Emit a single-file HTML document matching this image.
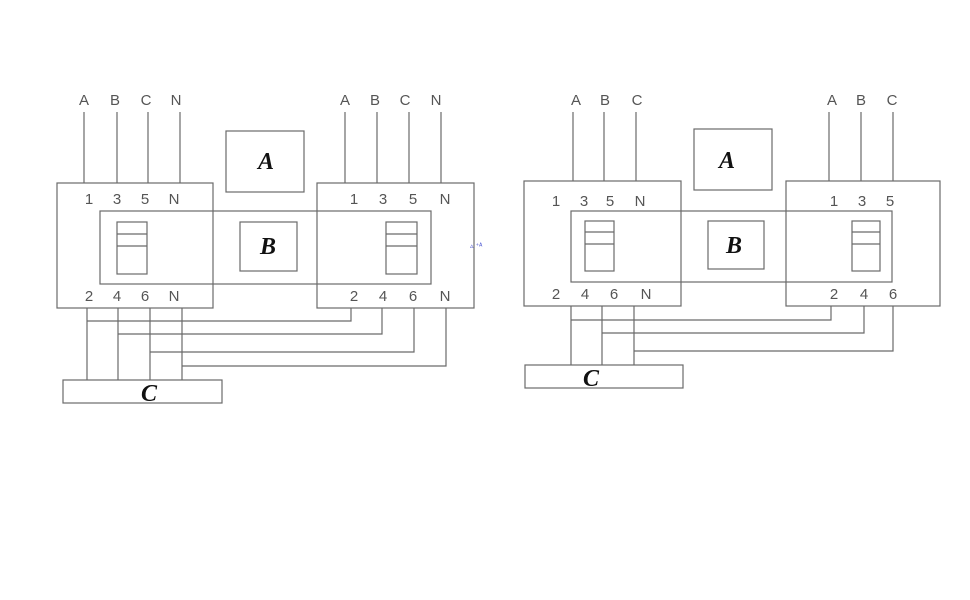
<!DOCTYPE html>
<html><head><meta charset="utf-8"><style>
html,body{margin:0;padding:0;background:#fff}
svg{display:block}
.l{stroke:#6a6a6a;stroke-width:1.2;fill:none}
.t{font-family:"Liberation Sans",sans-serif;font-size:15px;fill:#555;text-anchor:middle}
.b{font-family:"Liberation Serif",serif;font-size:24px;font-weight:bold;font-style:italic;fill:#111;text-anchor:middle}
</style></head><body>
<svg width="970" height="600" viewBox="0 0 970 600" xmlns="http://www.w3.org/2000/svg">
<g class="l">
<rect x="57" y="183" width="156" height="125"/>
<rect x="317" y="183" width="157" height="125"/>
<rect x="100" y="211" width="331" height="73"/>
<rect x="226" y="131" width="78" height="61"/>
<rect x="240" y="222" width="57" height="49"/>
<rect x="117" y="222" width="30" height="52"/><path d="M117 234H147M117 246H147"/>
<rect x="386" y="222" width="31" height="52"/><path d="M386 234H417M386 246H417"/>
<path d="M84 112V183M117 112V183M148 112V183M180 112V183"/>
<path d="M345 112V183M377 112V183M409 112V183M441 112V183"/>
<path d="M87 308V380M118 308V380M150 308V380M182 308V380"/>
<path d="M351 308V321H87M382 308V334H118M414 308V352H150M446 308V366H182"/>
<rect x="63" y="380" width="159" height="23"/>
</g>
<g class="t">
<text x="84" y="105">A</text><text x="115" y="105">B</text><text x="146" y="105">C</text><text x="176" y="105">N</text>
<text x="345" y="105">A</text><text x="375" y="105">B</text><text x="405" y="105">C</text><text x="436" y="105">N</text>
<text x="89" y="204">1</text><text x="117" y="204">3</text><text x="145" y="204">5</text><text x="174" y="204">N</text>
<text x="354" y="204">1</text><text x="383" y="204">3</text><text x="413" y="204">5</text><text x="445" y="204">N</text>
<text x="89" y="301">2</text><text x="117" y="301">4</text><text x="145" y="301">6</text><text x="174" y="301">N</text>
<text x="354" y="301">2</text><text x="383" y="301">4</text><text x="413" y="301">6</text><text x="445" y="301">N</text>
</g>
<text class="b" x="266" y="169">A</text>
<text class="b" x="268" y="254">B</text>
<text class="b" x="149" y="401">C</text>
<text x="470" y="248" style="font-family:'Liberation Sans',sans-serif;font-size:7px;fill:#4450d0">▵ ⁺ᴬ</text>
<g class="l">
<rect x="524" y="181" width="157" height="125"/>
<rect x="786" y="181" width="154" height="125"/>
<rect x="571" y="211" width="321" height="71"/>
<rect x="694" y="129" width="78" height="61"/>
<rect x="708" y="221" width="56" height="48"/>
<rect x="585" y="221" width="29" height="50"/><path d="M585 232H614M585 244H614"/>
<rect x="852" y="221" width="28" height="50"/><path d="M852 232H880M852 244H880"/>
<path d="M573 112V181M604 112V181M636 112V181"/>
<path d="M829 112V181M861 112V181M893 112V181"/>
<path d="M571 306V365M602 306V365M634 306V365"/>
<path d="M831 306V320H571M864 306V333H602M893 306V351H634"/>
<rect x="525" y="365" width="158" height="23"/>
</g>
<g class="t">
<text x="576" y="105">A</text><text x="605" y="105">B</text><text x="637" y="105">C</text>
<text x="832" y="105">A</text><text x="861" y="105">B</text><text x="892" y="105">C</text>
<text x="556" y="206">1</text><text x="584" y="206">3</text><text x="610" y="206">5</text><text x="640" y="206">N</text>
<text x="834" y="206">1</text><text x="862" y="206">3</text><text x="890" y="206">5</text>
<text x="556" y="299">2</text><text x="585" y="299">4</text><text x="614" y="299">6</text><text x="646" y="299">N</text>
<text x="834" y="299">2</text><text x="864" y="299">4</text><text x="893" y="299">6</text>
</g>
<text class="b" x="727" y="168">A</text>
<text class="b" x="734" y="253">B</text>
<text class="b" x="591" y="386">C</text>
</svg>
</body></html>
